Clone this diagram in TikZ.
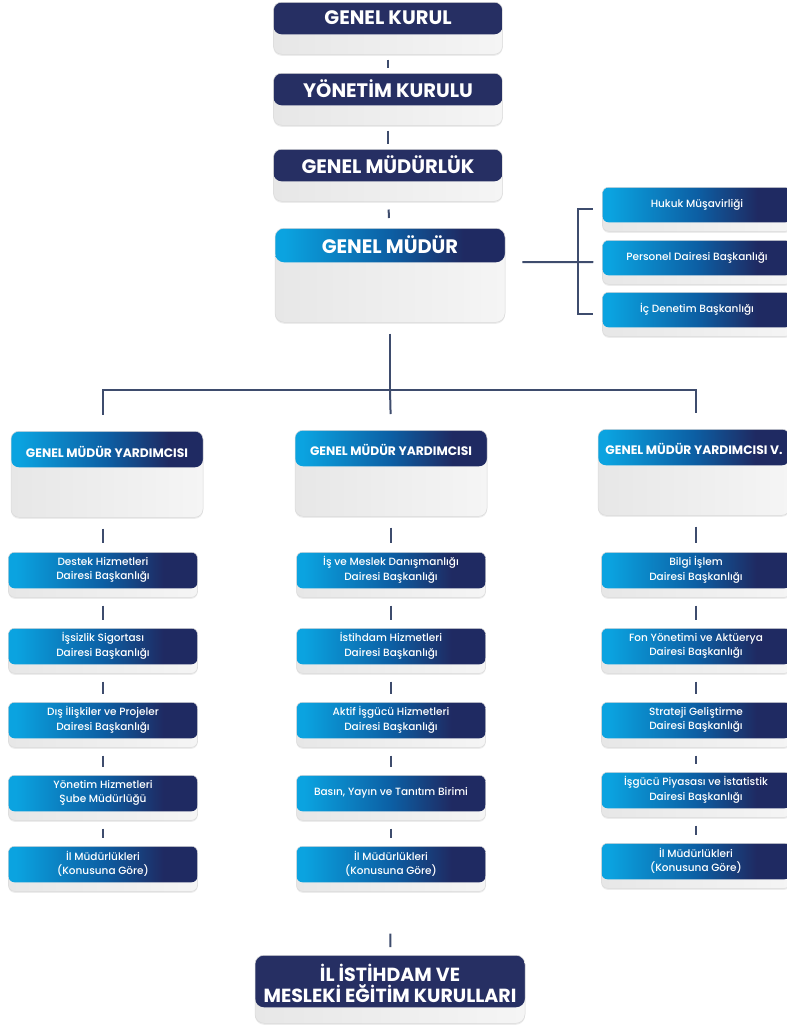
\documentclass[tikz,border=0pt]{standalone}
\usepackage{fontspec}
\setmainfont{Poppins}
\newfontfamily\medfont{Poppins Medium}
\usepackage{tikz}
\usetikzlibrary{shadows}
\definecolor{navy}{HTML}{262F63}
\definecolor{skyblue}{HTML}{0BA3E0}
\definecolor{midblue}{HTML}{0C5FA4}
\definecolor{deepblue}{HTML}{1F2A62}
\definecolor{graya}{HTML}{E7E7E7}
\definecolor{grayb}{HTML}{F5F5F5}
\definecolor{edgec}{HTML}{DADADA}
\definecolor{linkc}{HTML}{3E4C6D}
\pgfdeclarehorizontalshading{headshade}{100bp}{color(0bp)=(skyblue); color(27bp)=(skyblue); color(50bp)=(midblue); color(66bp)=(deepblue); color(100bp)=(deepblue)}
\tikzset{link/.style={draw=linkc, line width=2pt, shorten <=8pt, shorten >=8pt}}

\begin{document}
\begin{tikzpicture}[x=1pt, y=-1pt,
    unit/.style={rectangle, rounded corners=#1, draw=edgec, line width=.5pt, left color=graya, right color=grayb, anchor=north, inner sep=0pt, drop shadow={shadow xshift=0pt, shadow yshift=-1.5pt, opacity=.15}},
    flat head/.style={path picture={\fill[navy] (path picture bounding box.north west) rectangle ([yshift=-#1]path picture bounding box.north east);}},
    blue head/.style={path picture={\shade[shading=headshade, shading angle=0] (path picture bounding box.north west) rectangle ([yshift=-#1]path picture bounding box.north east);}},
    board/.style={unit=8pt, flat head=32pt, minimum width=229pt, minimum height=52pt},
    chief/.style={unit=9pt, blue head=34pt, minimum width=230pt, minimum height=94pt},
    deputy/.style={unit=8pt, blue head=36pt, minimum width=192pt, minimum height=86pt},
    dept/.style={unit=6pt, blue head=36pt, minimum width=189pt, minimum height=45pt},
    council/.style={unit=9pt, flat head=52pt, minimum width=270pt, minimum height=68pt},
    title/.style={text=white, align=center, font=\fontsize{19.5}{22}\selectfont\bfseries},
    subtitle/.style={text=white, align=center, font=\fontsize{12.3}{14}\selectfont\bfseries},
    small/.style={text=white, align=center, font=\fontsize{10.5}{14.5}\selectfont\medfont}]
    \useasboundingbox (0,0) rectangle (787,1029);
    \clip (0,0) rectangle (787,1029);
    \node[board] (gk) at (388,2) {};
    \node[title] (gkt) at ([yshift=-16pt]gk.north) {GENEL KURUL};
    \node[board] (yk) at (388,73) {};
    \node[title] (ykt) at ([yshift=-16pt]yk.north) {YÖNETİM KURULU};
    \node[board] (gml) at (388,149) {};
    \node[title] (gmlt) at ([yshift=-16pt]gml.north) {GENEL MÜDÜRLÜK};
    \node[chief] (gm) at (390,228) {};
    \node[title] (gmt) at ([yshift=-17pt]gm.north) {GENEL MÜDÜR};
    \node[dept, minimum height=44pt, blue head=35pt] (hk) at (697,187) {};
    \node[small] (hkt) at ([yshift=-17.5pt]hk.north) {Hukuk Müşavirliği};
    \node[dept, minimum height=44pt, blue head=35pt] (pdb) at (697,240) {};
    \node[small] (pdbt) at ([yshift=-17.5pt]pdb.north) {Personel Dairesi Başkanlığı};
    \node[dept, minimum height=44pt, blue head=35pt] (idb) at (697,292) {};
    \node[small] (idbt) at ([yshift=-17.5pt]idb.north) {İç Denetim Başkanlığı};
    \node[deputy] (gmy1) at (107,431) {};
    \node[subtitle] (gmy1t) at ([yshift=-21pt]gmy1.north) {GENEL MÜDÜR YARDIMCISI};
    \node[deputy] (gmy2) at (391,430) {};
    \node[subtitle] (gmy2t) at ([yshift=-20pt]gmy2.north) {GENEL MÜDÜR YARDIMCISI};
    \node[deputy] (gmy3) at (694,429) {};
    \node[subtitle] (gmy3t) at ([yshift=-20pt]gmy3.north) {GENEL MÜDÜR YARDIMCISI V.};
    \node[dept] (dh) at (103,552) {};
    \node[small] (dht) at ([yshift=-18pt]dh.north) {Destek Hizmetleri\\Dairesi Başkanlığı};
    \node[dept] (is) at (103,628) {};
    \node[small] (ist) at ([yshift=-18pt]is.north) {İşsizlik Sigortası\\Dairesi Başkanlığı};
    \node[dept] (di) at (103,702) {};
    \node[small] (dit) at ([yshift=-18pt]di.north) {Dış İlişkiler ve Projeler\\Dairesi Başkanlığı};
    \node[dept] (yh) at (103,775) {};
    \node[small] (yht) at ([yshift=-18pt]yh.north) {Yönetim Hizmetleri\\Şube Müdürlüğü};
    \node[dept] (il1) at (103,846) {};
    \node[small] (il1t) at ([yshift=-18pt]il1.north) {İl Müdürlükleri\\(Konusuna Göre)};
    \node[dept] (imd) at (391,552) {};
    \node[small] (imdt) at ([yshift=-18pt]imd.north) {İş ve Meslek Danışmanlığı\\Dairesi Başkanlığı};
    \node[dept] (ih) at (391,628) {};
    \node[small] (iht) at ([yshift=-18pt]ih.north) {İstihdam Hizmetleri\\Dairesi Başkanlığı};
    \node[dept] (aih) at (391,702) {};
    \node[small] (aiht) at ([yshift=-18pt]aih.north) {Aktif İşgücü Hizmetleri\\Dairesi Başkanlığı};
    \node[dept] (byt) at (391,775) {};
    \node[small] (bytt) at ([yshift=-18pt]byt.north) {Basın, Yayın ve Tanıtım Birimi};
    \node[dept] (il2) at (391,846) {};
    \node[small] (il2t) at ([yshift=-18pt]il2.north) {İl Müdürlükleri\\(Konusuna Göre)};
    \node[dept] (bi) at (696,552) {};
    \node[small] (bit) at ([yshift=-18pt]bi.north) {Bilgi İşlem\\Dairesi Başkanlığı};
    \node[dept] (fy) at (696,628) {};
    \node[small] (fyt) at ([yshift=-18pt]fy.north) {Fon Yönetimi ve Aktüerya\\Dairesi Başkanlığı};
    \node[dept] (sg) at (696,702) {};
    \node[small] (sgt) at ([yshift=-18pt]sg.north) {Strateji Geliştirme\\Dairesi Başkanlığı};
    \node[dept] (ip) at (696,772) {};
    \node[small] (ipt) at ([yshift=-18pt]ip.north) {İşgücü Piyasası ve İstatistik\\Dairesi Başkanlığı};
    \node[dept] (il3) at (696,843) {};
    \node[small] (il3t) at ([yshift=-18pt]il3.north) {İl Müdürlükleri\\(Konusuna Göre)};
    \node[council] (iek) at (390,955) {};
    \node[title, font=\fontsize{19}{21}\selectfont\bfseries] (iekt) at ([yshift=-28pt]iek.north) {İL İSTİHDAM VE\\MESLEKİ EĞİTİM KURULLARI};
    \coordinate (bus) at (390,390);
    \coordinate (brk) at (578,262);
    \draw[link, shorten <=5pt, shorten >=5pt] (gk) -- (yk);
    \draw[link, shorten <=5pt, shorten >=5pt] (yk) -- (gml);
    \draw[link, shorten <=8pt, shorten >=10pt] (gml) -- (gm);
    \draw[link, shorten <=17pt, shorten >=0pt] (gm.east |- pdb.west) -- (brk);
    \draw[link, shorten <=0pt, shorten >=9pt] (hk.west -| brk) -- (hk.west);
    \draw[link, shorten <=0pt, shorten >=9pt] (brk) -- (pdb.west);
    \draw[link, shorten <=0pt, shorten >=9pt] (idb.west -| brk) -- (idb.west);
    \draw[link, shorten <=-1pt, shorten >=-1pt] (hk.west -| brk) -- (idb.west -| brk);
    \draw[link, shorten <=11pt, shorten >=0pt] (gm.south) -- (bus);
    \draw[link, shorten <=-1pt, shorten >=-1pt] (dh.north |- bus) -- (bi.north |- bus);
    \draw[link, shorten <=-1pt, shorten >=16pt] (dh.north |- bus) -- (dh.north |- gmy1.north);
    \draw[link, shorten <=0pt, shorten >=16pt] (bus) -- (gmy2.north);
    \draw[link, shorten <=-1pt, shorten >=16pt] (bi.north |- bus) -- (bi.north |- gmy3.north);
    \draw[link, shorten <=11pt, shorten >=9pt] (dh.north |- gmy1.south) -- (dh);
    \draw[link, shorten <=11pt, shorten >=9pt] (gmy2) -- (imd);
    \draw[link, shorten <=11pt, shorten >=9pt] (bi.north |- gmy3.south) -- (bi);
    \draw[link] (dh) -- (is);
    \draw[link] (is) -- (di);
    \draw[link] (di) -- (yh);
    \draw[link] (yh) -- (il1);
    \draw[link] (imd) -- (ih);
    \draw[link] (ih) -- (aih);
    \draw[link] (aih) -- (byt);
    \draw[link] (byt) -- (il2);
    \draw[link] (bi) -- (fy);
    \draw[link] (fy) -- (sg);
    \draw[link] (sg) -- (ip);
    \draw[link] (ip) -- (il3);
    \draw[link, shorten <=42pt, shorten >=8pt] (il2) -- (iek);
\end{tikzpicture}
\end{document}
